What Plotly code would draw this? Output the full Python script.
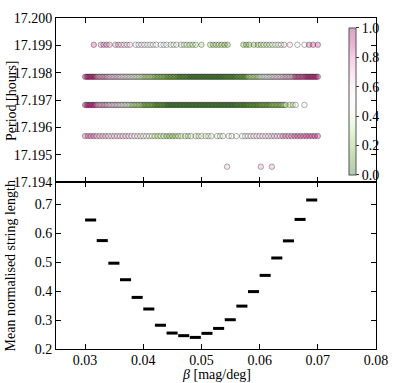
import numpy as np
import plotly.graph_objects as go

# ---------------- bottom panel data ----------------
bin_left = [0.030, 0.032, 0.034, 0.036, 0.038, 0.040, 0.042, 0.044, 0.046, 0.048,
            0.050, 0.052, 0.054, 0.056, 0.058, 0.060, 0.062, 0.064, 0.066, 0.068]
mean_len = [0.645, 0.574, 0.496, 0.439, 0.378, 0.338, 0.282, 0.255, 0.246, 0.240,
            0.254, 0.271, 0.301, 0.348, 0.398, 0.454, 0.514, 0.573, 0.647, 0.714]
bin_width = 0.0019

# ---------------- top panel data ----------------
period_levels = [17.19902, 17.19785, 17.19682, 17.19568, 17.19456]
beta_grid = np.round(np.arange(0.0300, 0.07001, 0.0005), 5)
beta_grid_fine = np.round(np.arange(0.0300, 0.07001, 0.00025), 5)

row1_beta = [0.0315, 0.0327, 0.0332, 0.0337, 0.0342, 0.0352, 0.0357, 0.0362, 0.0367,
             0.0372, 0.0377, 0.0387, 0.0392, 0.0397, 0.0402, 0.0407, 0.0412, 0.0417,
             0.0422, 0.0430, 0.0435, 0.0440, 0.0447, 0.0452, 0.0457, 0.0465, 0.0470,
             0.0475, 0.0480, 0.0485, 0.0490, 0.0500, 0.0515, 0.0520, 0.0525, 0.0530,
             0.0535, 0.0540, 0.0545, 0.0572, 0.0577, 0.0582, 0.0590, 0.0597, 0.0602,
             0.0607, 0.0612, 0.0617, 0.0622, 0.0627, 0.0632, 0.0637, 0.0642, 0.0652,
             0.0665, 0.0677, 0.0685, 0.0692, 0.0700]
row1_colour = [0.85, 0.80, 0.75, 0.65, 0.55, 0.50, 0.50, 0.45, 0.35, 0.30,
               0.25, 0.25, 0.20, 0.20, 0.20, 0.30, 0.40, 0.65, 0.50, 0.85]

row2_range = (0.0300, 0.0700)
row2_colour = [0.92, 0.75, 0.65, 0.58, 0.40, 0.30, 0.22, 0.15, 0.08, 0.03,
               0.03, 0.03, 0.06, 0.12, 0.30, 0.48, 0.60, 0.68, 0.85, 0.92]

row3_range = (0.0300, 0.0645)
row3_extra = [0.0652, 0.0657, 0.0662, 0.0677]
row3_colour = [0.90, 0.72, 0.62, 0.45, 0.30, 0.18, 0.10, 0.03, 0.03, 0.03,
               0.03, 0.03, 0.03, 0.06, 0.10, 0.15, 0.22, 0.30, 0.45, 0.55]

row4_range = (0.0300, 0.0465)
row4_range_b = (0.0570, 0.0700)
row4_extra = [0.0472, 0.0477, 0.0482, 0.0490, 0.0495, 0.0500, 0.0507, 0.0512,
              0.0517, 0.0527, 0.0532, 0.0537, 0.0547, 0.0552, 0.0560]
row4_colour = [0.85, 0.75, 0.70, 0.68, 0.62, 0.40, 0.30, 0.20, 0.30, 0.35,
               0.40, 0.40, 0.45, 0.50, 0.60, 0.62, 0.70, 0.82, 0.88, 0.90]

row5_beta = [0.0544, 0.0602, 0.0621]
row5_colour = [0.70, 0.75, 0.75]

cbar_ticks = [0.0, 0.2, 0.4, 0.6, 0.8, 1.0]
xticks = [0.03, 0.04, 0.05, 0.06, 0.07, 0.08]
y_bottom_ticks = [0.2, 0.3, 0.4, 0.5, 0.6, 0.7]
y_top_ticks = [17.194, 17.195, 17.196, 17.197, 17.198, 17.199, 17.200]


def bin_colour(betas, colours):
    idx = np.clip(np.floor((np.asarray(betas) - 0.030) / 0.002 + 1e-9).astype(int), 0, 19)
    return [colours[i] for i in idx]


def in_range(grid, rng):
    return [float(b) for b in grid if rng[0] - 1e-9 <= b <= rng[1] + 1e-9]


xs, ys, cs = [], [], []
# row 1 (sparse)
xs += row1_beta; ys += [period_levels[0]] * len(row1_beta); cs += bin_colour(row1_beta, row1_colour)
# row 2 (dense)
r2 = in_range(beta_grid_fine, row2_range)
xs += r2; ys += [period_levels[1]] * len(r2); cs += bin_colour(r2, row2_colour)
# row 3 (dense)
r3 = in_range(beta_grid_fine, row3_range) + row3_extra
xs += r3; ys += [period_levels[2]] * len(r3); cs += bin_colour(r3, row3_colour)
# row 4
r4 = in_range(beta_grid, row4_range) + row4_extra + in_range(beta_grid, row4_range_b)
xs += r4; ys += [period_levels[3]] * len(r4); cs += bin_colour(r4, row4_colour)
# row 5
xs += row5_beta; ys += [period_levels[4]] * len(row5_beta); cs += row5_colour

alpha = 0.35
piyg_r = ['#276419', '#4d9221', '#7fbc41', '#b8e186', '#e6f5d0', '#f7f7f7',
          '#fde0ef', '#f1b6da', '#de77ae', '#c51b7d', '#8e0152']


def rgba(h, a):
    h = h.lstrip('#')
    return 'rgba(%d,%d,%d,%.2f)' % (int(h[0:2], 16), int(h[2:4], 16), int(h[4:6], 16), a)


cscale = [[i / 10, rgba(c, alpha)] for i, c in enumerate(piyg_r)]

FONT = "Liberation Serif"
FS = 14
fig = go.Figure()

fig.add_trace(go.Scatter(
    x=xs, y=ys, mode='markers', xaxis='x2', yaxis='y2',
    marker=dict(size=5.5, color=cs, colorscale=cscale, cmin=0, cmax=1,
                line=dict(color='rgba(0,0,0,0.38)', width=0.8),
                colorbar=dict(x=0.9144, xanchor='left', y=0.748, yanchor='middle',
                              len=0.445, lenmode='fraction', thickness=7,
                              outlinecolor='#555', outlinewidth=1,
                              tickvals=cbar_ticks, tickformat='.1f',
                              ticks='outside', ticklen=3, tickcolor='#333',
                              tickfont=dict(family=FONT, size=FS, color='black'),
                              xpad=0, ypad=0)),
    showlegend=False, hoverinfo='skip'))

# bottom panel horizontal bars
bx, by = [], []
for l, v in zip(bin_left, mean_len):
    bx += [l, l + bin_width, None]
    by += [v, v, None]
fig.add_trace(go.Scatter(x=bx, y=by, mode='lines', xaxis='x', yaxis='y',
                         line=dict(color='black', width=3), showlegend=False,
                         hoverinfo='skip'))

axis_common = dict(showline=True, mirror='allticks', linecolor='black', linewidth=1,
                   ticks='inside', ticklen=5, tickcolor='black', showgrid=False,
                   zeroline=False, tickfont=dict(family=FONT, size=FS, color='black'))

split = 170.5 / 338
fig.update_layout(
    width=399, height=383,
    margin=dict(l=56, r=16, t=11, b=34),
    paper_bgcolor='white', plot_bgcolor='white',
    xaxis=dict(domain=[0, 1], range=[0.025, 0.08], tickvals=xticks, tickformat='.2f',
               anchor='y', ticklabelstandoff=-2, **axis_common),
    xaxis2=dict(domain=[0, 1], range=[0.025, 0.08], tickvals=xticks, showticklabels=False,
                anchor='y2', matches='x', **axis_common),
    yaxis=dict(domain=[0, split], range=[0.2, 0.776], tickvals=y_bottom_ticks,
               tickformat='.1f', anchor='x', **axis_common),
    yaxis2=dict(domain=[split, 1], range=[17.194, 17.200], tickvals=y_top_ticks,
                tickformat='.3f', anchor='x2', **axis_common),
    annotations=[
        dict(text='Period [hours]', xref='paper', yref='paper', x=-0.1407,
             y=split + (1 - split) / 2, textangle=-90, showarrow=False,
             xanchor='center', yanchor='middle', font=dict(family=FONT, size=FS, color='black')),
        dict(text='Mean normalised string length', xref='paper', yref='paper', x=-0.1407,
             y=split / 2, textangle=-90, showarrow=False,
             xanchor='center', yanchor='middle', font=dict(family=FONT, size=FS, color='black')),
        dict(text='<i>β</i> [mag/deg]', xref='paper', yref='paper', x=0.5,
             y=-0.077, showarrow=False, xanchor='center', yanchor='middle',
             font=dict(family=FONT, size=FS, color='black')),
    ],
)

# remove the browser's default 8px page margin so the figure sits at (0, 0)
fig.write_html("out.html", post_script="document.body.style.margin='0';",
               config={'displayModeBar': False})
